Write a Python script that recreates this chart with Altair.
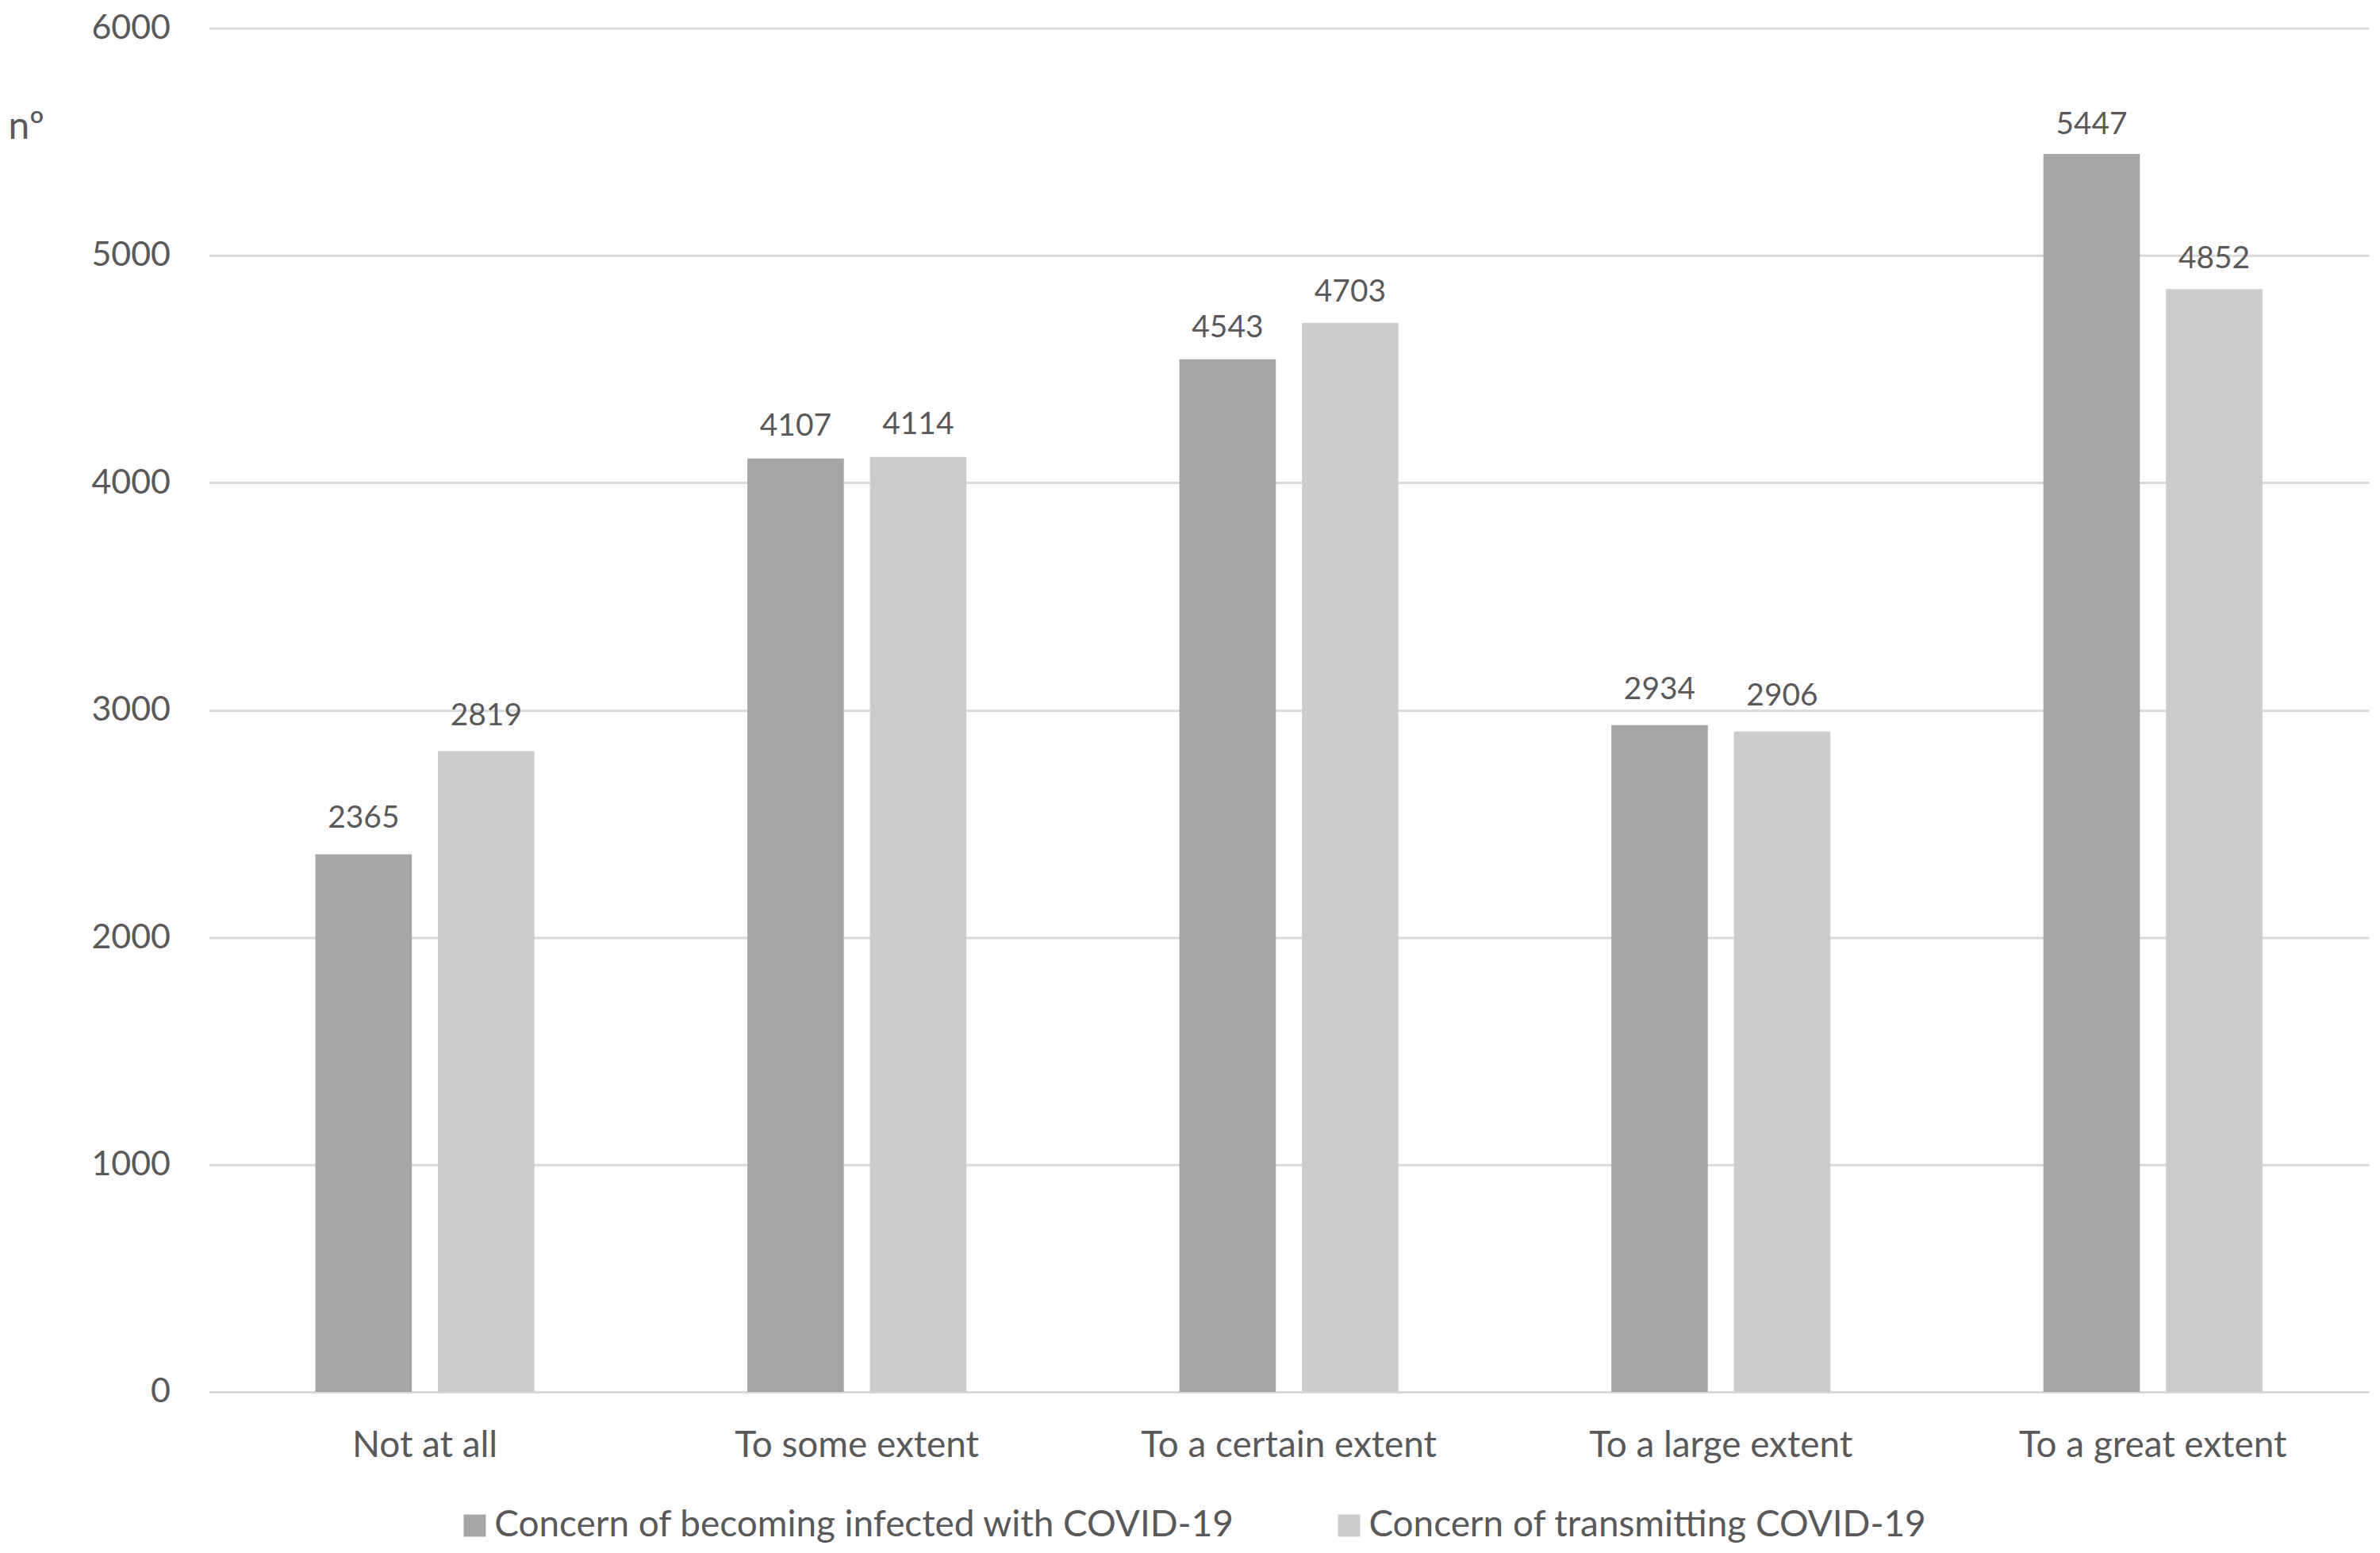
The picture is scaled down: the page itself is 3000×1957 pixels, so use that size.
import altair as alt
import pandas as pd

categories = ["Not at all", "To some extent", "To a certain extent",
              "To a large extent", "To a great extent"]
series = ["Concern of becoming infected with COVID-19",
          "Concern of transmitting COVID-19"]
infected = [2365, 4107, 4543, 2934, 5447]
transmitting = [2819, 4114, 4703, 2906, 4852]
y_ticks = [0, 1000, 2000, 3000, 4000, 5000, 6000]
colors = ["#A5A5A5", "#CCCCCC"]

rows = []
for i, c in enumerate(categories):
    rows.append({"category": c, "series": series[0], "value": infected[i]})
    rows.append({"category": c, "series": series[1], "value": transmitting[i]})
df = pd.DataFrame(rows)

FONT = "Lato"
TEXT = "#595959"

x = alt.X(
    "category:N", sort=categories,
    scale=alt.Scale(paddingInner=0.493, paddingOuter=0.2465),
    axis=alt.Axis(title=None, labelAngle=0, labelFontSize=46, labelPadding=82,
                  labelBaseline="alphabetic", ticks=False, domain=False,
                  labelLimit=2000, labelColor=TEXT, labelFont=FONT, grid=False),
)
xo = alt.XOffset("series:N", sort=series,
                 scale=alt.Scale(paddingInner=0.213, paddingOuter=0))
y = alt.Y(
    "value:Q",
    scale=alt.Scale(domain=[0, 6000], nice=False),
    axis=alt.Axis(values=y_ticks, format="d", title="nº", titleAngle=0,
                  titleAlign="left", titleBaseline="alphabetic", titleX=-254,
                  titleY=139, titleFontSize=48, titleFontWeight="normal",
                  titleColor=TEXT, titleFont=FONT, grid=True,
                  gridColor="#D9D9D9", gridWidth=3, domain=False, ticks=False,
                  labelPadding=49, labelFontSize=43, labelColor=TEXT,
                  labelFont=FONT),
)

bars = alt.Chart(df).mark_bar().encode(
    x=x, xOffset=xo, y=y,
    color=alt.Color(
        "series:N", sort=series,
        scale=alt.Scale(domain=series, range=colors),
        legend=alt.Legend(orient="none", legendX=313, legendY=1869,
                          direction="horizontal", title=None,
                          symbolType="square", symbolSize=784,
                          symbolStrokeWidth=0, labelFontSize=46,
                          labelLimit=3000, columnPadding=120, labelOffset=2,
                          labelColor=TEXT, labelFont=FONT),
    ),
)

labels = alt.Chart(df).mark_text(
    baseline="alphabetic", fontSize=39, color=TEXT, font=FONT
).encode(
    x=x, xOffset=xo,
    y=alt.Y("value:Q", scale=alt.Scale(domain=[-145, 5918], nice=False),
            axis=None),
    text=alt.Text("value:Q", format="d"),
)

chart = alt.layer(bars, labels).resolve_scale(y="independent").properties(
    width=2730, height=1723,
    padding={"left": 256, "top": 25, "right": 6, "bottom": 193},
    autosize=alt.AutoSizeParams(type="none"),
).configure_view(strokeWidth=0)

chart.save("out.html", embed_options={"renderer": "svg", "actions": False})
